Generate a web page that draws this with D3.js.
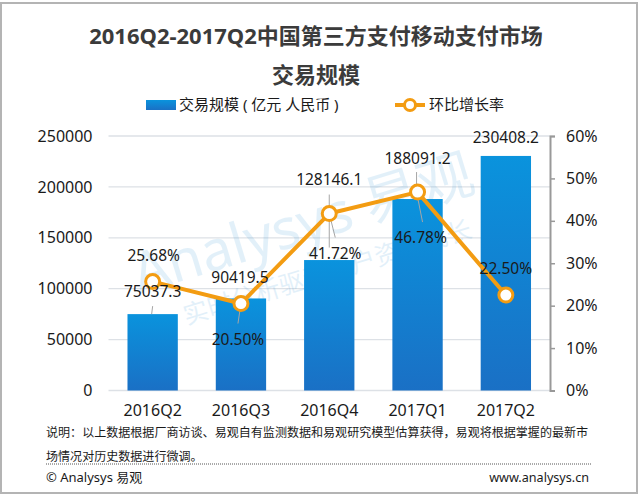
<!DOCTYPE html>
<html lang="zh">
  <head>
    <meta charset="UTF-8" />
    <title>交易规模</title>
    <script src="https://d3js.org/d3.v7.min.js"></script>
    <style>
      html, body { margin: 0; padding: 0; background: #fff; }
      svg { display: block; }
      text { font-family: "Noto Sans", "Noto Sans CJK SC", sans-serif; fill: #1a1a1a; }
    </style>
  </head>
  <body>
    <svg width="640" height="495" id="chart"></svg>

    <script>
      // Values
      const categories = ["2016Q2", "2016Q3", "2016Q4", "2017Q1", "2017Q2"];
      const volume = [75037.3, 90419.5, 128146.1, 188091.2, 230408.2];
      const growth = [25.68, 20.5, 41.72, 46.78, 22.5];
      const volumeLabels = ["75037.3", "90419.5", "128146.1", "188091.2", "230408.2"];
      const growthLabels = ["25.68%", "20.50%", "41.72%", "46.78%", "22.50%"];
      const volumeTicks = [0, 50000, 100000, 150000, 200000, 250000];
      const growthTicks = [0, 10, 20, 30, 40, 50, 60];

      const titleLines = ["2016Q2-2017Q2中国第三方支付移动支付市场", "交易规模"];
      const legendNames = ["交易规模 ( 亿元 人民币 )", "环比增长率"];
      const noteLines = [
        "说明：以上数据根据厂商访谈、易观自有监测数据和易观研究模型估算获得，易观将根据掌握的最新市",
        "场情况对历史数据进行微调。",
      ];

      const svg = d3.select("#chart");
      const plot = { left: 108.5, right: 550, top: 136, bottom: 390.5 };

      const x = d3.scaleBand().domain(categories).range([plot.left, plot.right])
        .paddingInner(0.43).paddingOuter(0.215);
      const yLeft = d3.scaleLinear().domain([0, 250000]).range([plot.bottom, plot.top]);
      const yRight = d3.scaleLinear().domain([0, 60]).range([plot.bottom, plot.top]);
      const cx = (i) => x(categories[i]) + x.bandwidth() / 2;

      // Outer frame
      svg.append("rect")
        .attr("x", 1).attr("y", 3).attr("width", 636).attr("height", 490)
        .attr("fill", "#fff").attr("stroke", "#b4b4b4").attr("stroke-width", 2);

      // Bar gradient
      const grad = svg.append("defs").append("linearGradient")
        .attr("id", "barFill").attr("x1", 0).attr("y1", 0).attr("x2", 0).attr("y2", 1);
      grad.append("stop").attr("offset", "0%").attr("stop-color", "#0a93dd");
      grad.append("stop").attr("offset", "100%").attr("stop-color", "#1a70c5");

      // Title
      svg.selectAll(".title").data(titleLines).join("text")
        .attr("class", "title")
        .attr("x", 316).attr("y", (d, i) => 44 + i * 39)
        .attr("text-anchor", "middle")
        .attr("font-size", 22).attr("font-weight", 700)
        .style("fill", "#3b3b3b")
        .text((d) => d);

      // Legend
      svg.append("rect").attr("x", 146).attr("y", 100).attr("width", 30).attr("height", 10).attr("fill", "url(#barFill)");
      svg.append("text").attr("x", 179).attr("y", 110).attr("font-size", 15).text(legendNames[0]);
      svg.append("line").attr("x1", 395).attr("x2", 425).attr("y1", 105).attr("y2", 105)
        .attr("stroke", "#f39c12").attr("stroke-width", 4);
      svg.append("circle").attr("cx", 410).attr("cy", 105).attr("r", 5.5)
        .attr("fill", "#fff").attr("stroke", "#f39c12").attr("stroke-width", 3);
      svg.append("text").attr("x", 429).attr("y", 110).attr("font-size", 15).text(legendNames[1]);

      // Gridlines
      svg.append("g").selectAll("line").data(volumeTicks).join("line")
        .attr("x1", plot.left).attr("x2", plot.right)
        .attr("y1", (d) => yLeft(d)).attr("y2", (d) => yLeft(d))
        .attr("stroke", "#dde1e6").attr("stroke-width", 1.3);

      // Left axis
      const leftAxis = svg.append("g")
        .attr("transform", "translate(" + plot.left + ",0)")
        .call(d3.axisLeft(yLeft).tickValues(volumeTicks).tickSize(0).tickPadding(16).tickFormat((d) => d));
      leftAxis.select(".domain").remove();
      leftAxis.selectAll("text").attr("font-size", 16);

      // Watermark, under the bars
      const mark = svg.append("g").attr("transform", "rotate(-17 330 240)").attr("opacity", 0.12);
      mark.append("text").attr("x", 132).attr("y", 236).attr("font-size", 56)
        .style("fill", "#1b8bd6").text("Analysys 易观");
      mark.append("text").attr("x", 168).attr("y", 279).attr("font-size", 25)
        .style("fill", "#1b8bd6").text("实时分析驱动用户资产成长");

      // Bars
      svg.append("g").selectAll("rect").data(volume).join("rect")
        .attr("x", (d, i) => x(categories[i]))
        .attr("y", (d) => yLeft(d))
        .attr("width", x.bandwidth())
        .attr("height", (d) => yLeft(0) - yLeft(d))
        .attr("fill", "url(#barFill)");

      // Bottom axis
      const bottomAxis = svg.append("g")
        .attr("transform", "translate(0," + plot.bottom + ")")
        .call(d3.axisBottom(x).tickSize(0).tickPadding(14));
      bottomAxis.select(".domain").remove();
      bottomAxis.selectAll("text").attr("font-size", 16);

      // Right axis
      const rightAxis = svg.append("g")
        .attr("transform", "translate(" + plot.right + ",0)")
        .call(d3.axisRight(yRight).tickValues(growthTicks).tickSize(5).tickPadding(11).tickFormat((d) => d + "%"));
      rightAxis.select(".domain").attr("stroke", "#999").attr("stroke-width", 2);
      rightAxis.selectAll("line").attr("stroke", "#999").attr("stroke-width", 1.5);
      rightAxis.selectAll("text").attr("font-size", 16);

      // Leader lines, as offsets from each mark
      const leaders = [
        { i: 0, y: yLeft(volume[0]), dx1: 0, dy1: -8, dx2: -1, dy2: 0 },
        { i: 1, y: yRight(growth[1]), dx1: 0, dy1: 0, dx2: -3, dy2: 20 },
        { i: 2, y: yRight(growth[2]), dx1: 0, dy1: -19, dx2: 0, dy2: 34 },
        { i: 2, y: yRight(growth[2]), dx1: 0, dy1: 0, dx2: 6, dy2: 24 },
        { i: 3, y: yRight(growth[3]), dx1: -1, dy1: -20, dx2: -1, dy2: 7 },
        { i: 3, y: yRight(growth[3]), dx1: -1, dy1: 0, dx2: 5, dy2: 30 },
      ];
      svg.append("g").selectAll("line").data(leaders).join("line")
        .attr("x1", (d) => cx(d.i) + d.dx1).attr("x2", (d) => cx(d.i) + d.dx2)
        .attr("y1", (d) => d.y + d.dy1).attr("y2", (d) => d.y + d.dy2)
        .attr("stroke", "#a6a6a6").attr("stroke-width", 1);

      // Growth line
      const line = d3.line().x((d, i) => cx(i)).y((d) => yRight(d));
      svg.append("path").datum(growth)
        .attr("d", line).attr("fill", "none")
        .attr("stroke", "#f39c12").attr("stroke-width", 4).attr("stroke-linejoin", "round");
      svg.append("g").selectAll("circle").data(growth).join("circle")
        .attr("cx", (d, i) => cx(i)).attr("cy", (d) => yRight(d)).attr("r", 7)
        .attr("fill", "#fff").attr("stroke", "#f39c12").attr("stroke-width", 3);

      // Value labels, nudged off the marks as in the picture
      const volumeLabelDx = [0, -1, 0, 0, 0];
      const volumeLabelDy = [-17, -15, -75, -35, -13];
      const growthLabelDx = [1, -3, 6, 3, 0];
      const growthLabelDy = [-21, 41, 45, 51, -21];

      svg.append("g").selectAll("text").data(volume).join("text")
        .attr("x", (d, i) => cx(i) + volumeLabelDx[i])
        .attr("y", (d, i) => yLeft(d) + volumeLabelDy[i])
        .attr("text-anchor", "middle").attr("font-size", 15.5)
        .text((d, i) => volumeLabels[i]);
      svg.append("g").selectAll("text").data(growth).join("text")
        .attr("x", (d, i) => cx(i) + growthLabelDx[i])
        .attr("y", (d, i) => yRight(d) + growthLabelDy[i])
        .attr("text-anchor", "middle").attr("font-size", 15.5)
        .text((d, i) => growthLabels[i]);

      // Footer
      svg.selectAll(".note").data(noteLines).join("text")
        .attr("class", "note")
        .attr("x", 46).attr("y", (d, i) => 437 + i * 24)
        .attr("font-size", 12.05)
        .text((d) => d);
      svg.append("line").attr("x1", 46).attr("x2", 592).attr("y1", 464).attr("y2", 464)
        .attr("stroke", "#555").attr("stroke-width", 1).attr("stroke-dasharray", "1 1");
      svg.append("text").attr("x", 46).attr("y", 482).attr("font-size", 13).text("© Analysys 易观");
      svg.append("text").attr("x", 589).attr("y", 482).attr("text-anchor", "end").attr("font-size", 12.6).text("www.analysys.cn");
    </script>
  </body>
</html>
